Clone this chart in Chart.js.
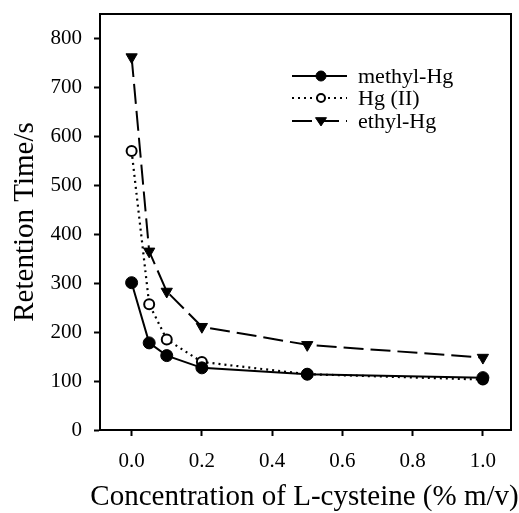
<!DOCTYPE html>
<html><head><meta charset="utf-8">
<script src="https://cdn.jsdelivr.net/npm/chart.js@4/dist/chart.umd.min.js"></script>
<style>html,body{margin:0;padding:0;background:#fff}#wrap{width:519px;height:513px}</style>
</head><body><div id="wrap"><canvas id="c" width="519" height="513"></canvas></div>
<script>
const concentrations = [0.0, 0.05, 0.1, 0.2, 0.5, 1.0];
const methylHg = [301, 178, 152, 127, 114, 107];
const hgII = [570, 257, 185, 139, 114, 103];
const ethylHg = [762, 365, 283, 211, 174, 148];
const xTicks = [0.0, 0.2, 0.4, 0.6, 0.8, 1.0];
const yTicks = [0, 100, 200, 300, 400, 500, 600, 700, 800];
const seriesNames = ['methyl-Hg', 'Hg (II)', 'ethyl-Hg'];
const xTitle = 'Concentration of L-cysteine (% m/v)';
const yTitle = 'Retention Time/s';

const pts = arr => concentrations.map((x, i) => ({x, y: arr[i]}));
const serif = "'Liberation Serif', 'DejaVu Serif', serif";

const datasets = [
  {label: seriesNames[0], data: pts(methylHg), borderColor:'#000', backgroundColor:'#000', borderWidth:2,
   pointStyle:'circle', pointRadius:6, pointBackgroundColor:'#000', pointBorderColor:'#000', pointBorderWidth:1},
  {label: seriesNames[1], data: pts(hgII), borderColor:'#000', backgroundColor:'#fff', borderWidth:2.2, borderDash:[2,4],
   pointStyle:'circle', pointRadius:5, pointBackgroundColor:'#fff', pointBorderColor:'#000', pointBorderWidth:2},
  {label: seriesNames[2], data: pts(ethylHg), borderColor:'#000', backgroundColor:'#000', borderWidth:2, borderDash:[20,7],
   pointStyle:'triangle', pointRotation:180, pointRadius:6.5, pointBackgroundColor:'#000', pointBorderColor:'#000', pointBorderWidth:1}
];

const frame = {
  id:'frame',
  afterDraw(chart){
    const {ctx, chartArea:a} = chart;
    ctx.save();
    ctx.strokeStyle='#000'; ctx.lineWidth=2;
    ctx.strokeRect(a.left, a.top, a.right-a.left, a.bottom-a.top);
    // x-axis title (drawn without width compression, overflowing like the original)
    ctx.fillStyle='#000';
    ctx.font = "29px " + serif;
    ctx.textAlign='center'; ctx.textBaseline='middle';
    ctx.fillText(xTitle, (a.left + a.right)/2 - 1, 497);
    // legend
    const rows = [76, 98, 121];
    ctx.font = "22px " + serif;
    ctx.textBaseline='middle'; ctx.textAlign='left';
    chart.data.datasets.forEach((ds, i) => {
      const y = rows[i];
      ctx.strokeStyle='#000';
      ctx.beginPath();
      ctx.setLineDash(ds.borderDash || []);
      ctx.lineWidth = ds.borderWidth;
      ctx.moveTo(292, y); ctx.lineTo(347, y); ctx.stroke();
      ctx.setLineDash([]);
      const r = ds.pointRadius - 1;
      ctx.fillStyle = ds.pointBackgroundColor;
      ctx.beginPath();
      if (ds.pointStyle==='circle') { ctx.arc(321, y, r, 0, Math.PI*2); }
      else { ctx.moveTo(321-r, y-r*0.6); ctx.lineTo(321+r, y-r*0.6); ctx.lineTo(321, y+r*0.9); ctx.closePath(); }
      ctx.fill(); ctx.lineWidth=ds.pointBorderWidth; ctx.stroke();
      ctx.fillStyle='#000';
      ctx.fillText(seriesNames[i], 358, y+1);
    });
    ctx.restore();
  }
};

new Chart(document.getElementById('c'), {
  type:'line',
  data:{datasets},
  options:{
    responsive:false, animation:false,
    layout:{padding:{top:14, right:8, left:0, bottom:0}},
    plugins:{legend:{display:false}, tooltip:{enabled:false}},
    scales:{
      x:{type:'linear', min:-0.09, max:1.08,
        afterBuildTicks: s => { s.ticks = xTicks.map(v => ({value:v})); },
        afterFit: s => { s.height = 83; s.paddingLeft = 0; s.paddingRight = 0; },
        ticks:{color:'#000', font:{family:serif, size:21}, padding:13, callback: v => v.toFixed(1)},
        grid:{drawOnChartArea:false, drawTicks:true, tickLength:6, color:'#000', tickWidth:2},
        border:{display:true, color:'#000', width:2},
        title:{display:false}
      },
      y:{type:'linear', min:0, max:850,
        afterBuildTicks: s => { s.ticks = yTicks.map(v => ({value:v})); },
        afterFit: s => { s.width = 100; s.paddingTop = 0; s.paddingBottom = 0; },
        ticks:{color:'#000', font:{family:serif, size:21}, padding:12},
        grid:{drawOnChartArea:false, drawTicks:true, tickLength:6, color:'#000', tickWidth:2},
        border:{display:true, color:'#000', width:2},
        title:{display:true, text:yTitle, color:'#000', font:{family:serif, size:29, lineHeight:1}, padding:{top:11, bottom:0}}
      }
    }
  },
  plugins:[frame]
});
</script></body></html>
